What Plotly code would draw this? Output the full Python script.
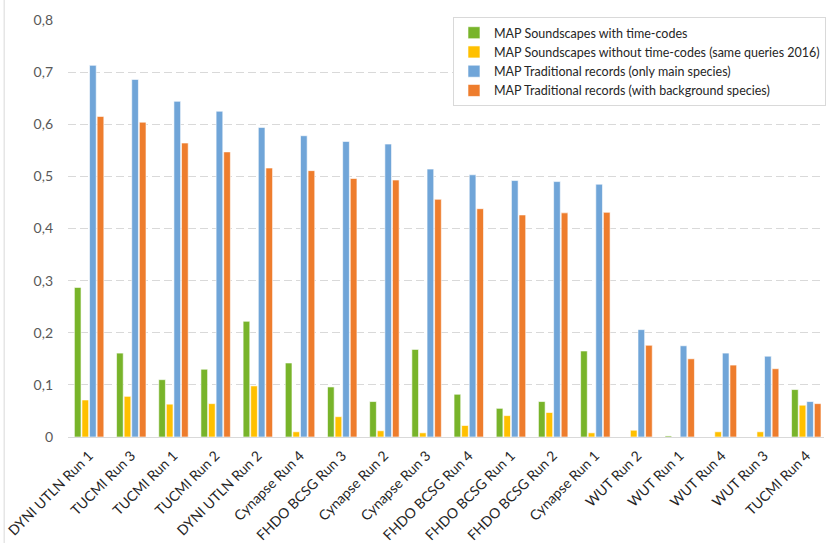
import plotly.graph_objects as go

runs = [
    "DYNI UTLN Run 1", "TUCMI Run 3", "TUCMI Run 1", "TUCMI Run 2",
    "DYNI UTLN Run 2", "Cynapse Run 4", "FHDO BCSG Run 3", "Cynapse Run 2",
    "Cynapse Run 3", "FHDO BCSG Run 4", "FHDO BCSG Run 1", "FHDO BCSG Run 2",
    "Cynapse Run 1", "WUT Run 2", "WUT Run 1", "WUT Run 4", "WUT Run 3",
    "TUCMI Run 4",
]

soundscapes_tc = [0.287, 0.161, 0.110, 0.130, 0.222, 0.142, 0.096, 0.068,
                  0.168, 0.082, 0.055, 0.068, 0.165, 0.0, 0.002, 0.0, 0.0, 0.091]
soundscapes_no_tc = [0.071, 0.078, 0.063, 0.064, 0.098, 0.010, 0.039, 0.012,
                     0.008, 0.022, 0.041, 0.047, 0.008, 0.013, 0.0, 0.010, 0.010, 0.061]
trad_main = [0.713, 0.686, 0.644, 0.625, 0.594, 0.578, 0.567, 0.562,
             0.514, 0.503, 0.492, 0.490, 0.485, 0.206, 0.175, 0.161, 0.155, 0.068]
trad_background = [0.615, 0.604, 0.564, 0.547, 0.516, 0.511, 0.496, 0.493,
                   0.456, 0.438, 0.426, 0.430, 0.431, 0.176, 0.150, 0.138, 0.131, 0.064]

series = [
    ("MAP Soundscapes with time-codes", soundscapes_tc, "#78B42A"),
    ("MAP Soundscapes without time-codes (same queries 2016)", soundscapes_no_tc, "#FFC000"),
    ("MAP Traditional records (only main species)", trad_main, "#70A5D8"),
    ("MAP Traditional records (with background species)", trad_background, "#EE7D2D"),
]

y_ticks = [0, 0.1, 0.2, 0.3, 0.4, 0.5, 0.6, 0.7, 0.8]
y_tick_text = ["0", "0,1", "0,2", "0,3", "0,4", "0,5", "0,6", "0,7", "0,8"]

fig = go.Figure()
for name, vals, color in series:
    fig.add_trace(go.Bar(
        name=name, x=runs, y=vals,
        marker=dict(color=color, line=dict(color="rgba(255,255,255,0.6)", width=1)),
    ))

font_family = "Lato, 'Open Sans', sans-serif"

fig.update_layout(
    width=826, height=543,
    margin=dict(l=68, r=0, t=20, b=106),
    paper_bgcolor="white", plot_bgcolor="white",
    barmode="group", bargap=0.28, bargroupgap=0.12,
    font=dict(family=font_family, size=14, color="#404040"),
    legend=dict(
        x=(454 - 68) / 758, y=1.007, xanchor="left", yanchor="top",
        bgcolor="white", bordercolor="#D9D9D9", borderwidth=1,
        font=dict(size=12.5, color="#262626"),
        itemwidth=30, tracegroupgap=2,
    ),
    showlegend=True,
    shapes=[dict(type="line", xref="paper", yref="paper",
                 x0=-64 / 758, x1=-64 / 758, y0=-106 / 417, y1=1 + 20 / 417,
                 line=dict(color="#D9D9D9", width=1))],
)

fig.update_xaxes(
    range=[-0.5, 17.42], tickangle=-45,
    tickfont=dict(size=14, color="#262626"),
    showgrid=False, showline=True, linecolor="#D9D9D9", linewidth=1,
    ticks="", ticklabelstandoff=4,
)
fig.update_yaxes(
    range=[0, 0.8], tickvals=y_ticks, ticktext=y_tick_text,
    tickfont=dict(size=14, color="#595959"),
    showgrid=True, gridcolor="#D9D9D9", gridwidth=1, griddash="8px,4px",
    zeroline=False, showline=False, ticks="", ticklabelstandoff=14,
)

fig.write_html("out.html")
